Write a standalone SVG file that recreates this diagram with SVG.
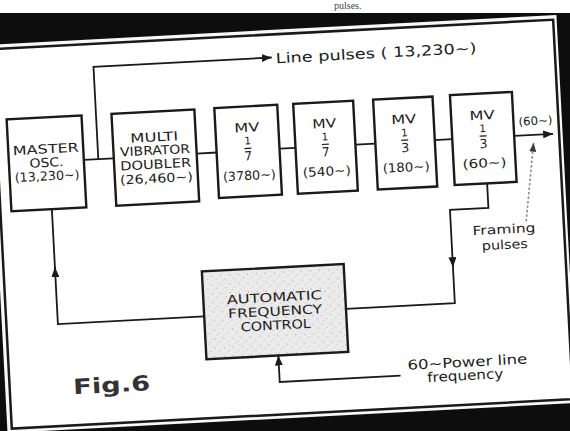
<svg xmlns="http://www.w3.org/2000/svg" width="570" height="431" viewBox="0 0 570 431">
<defs>
<style>
.box{fill:#fff;stroke:#1a1a1a;stroke-width:2.4}
.afc{fill:url(#stip);stroke:#1a1a1a;stroke-width:2.4}
.ln{fill:none;stroke:#1a1a1a;stroke-width:1.8}
.dot{fill:none;stroke:#8a8a8a;stroke-width:1.6;stroke-dasharray:2.5 2}
.t{font-family:"DejaVu Sans","Liberation Sans",sans-serif;font-size:12.5px;fill:#1c1c1c;text-anchor:middle}
.s{font-size:10.5px}
.bar{stroke:#1c1c1c;stroke-width:1.2}
.lab{font-family:"DejaVu Sans","Liberation Sans",sans-serif;font-size:13.5px;fill:#1c1c1c}
</style>
<marker id="ah" viewBox="0 0 10 8" refX="10" refY="4" markerWidth="10" markerHeight="8" markerUnits="userSpaceOnUse" orient="auto"><path d="M0,0 L10,4 L0,8 z" fill="#1a1a1a"/></marker>
<marker id="ahg" viewBox="0 0 10 8" refX="10" refY="4" markerWidth="9" markerHeight="7" markerUnits="userSpaceOnUse" orient="auto"><path d="M0,0 L10,4 L0,8 z" fill="#3a3a3a"/></marker>
<pattern id="stip" width="9" height="9" patternUnits="userSpaceOnUse"><rect width="9" height="9" fill="#ebebeb"/><circle cx="1.5" cy="2" r="0.6" fill="#8a8a8a"/><circle cx="6" cy="5.5" r="0.5" fill="#9a9a9a"/><circle cx="3.5" cy="7.5" r="0.45" fill="#aaa"/><circle cx="7.5" cy="1" r="0.4" fill="#b0b0b0"/></pattern>
</defs>
<rect width="570" height="431" fill="#0d0d0d"/>
<g transform="rotate(-3 285 215)">
<rect x="-3.5" y="29.5" width="570" height="388.5" fill="#f8f8f8"/>
<rect x="1" y="34" width="562" height="380" fill="#fff" stroke="#1a1a1a" stroke-width="2.5"/>

<g id="connectors">
<path class="ln" d="M87,149.5 H117"/>
<path class="ln" d="M101.5,149.5 V57 H280" marker-end="url(#ah)"/>
<path class="ln" d="M200,149 H220"/>
<path class="ln" d="M283,148.5 H299"/>
<path class="ln" d="M359,148.5 H379"/>
<path class="ln" d="M438,148 H456"/>
<path class="ln" d="M518,148 H557" marker-end="url(#ah)"/>
<path class="dot" d="M525.5,234 L537,156" marker-end="url(#ahg)"/>
<path class="ln" d="M488.5,194.5 V218.5 H450 V276" marker-end="url(#ah)"/>
<path class="ln" d="M450,274 V312 H341"/>
<path class="ln" d="M199,312 H52.5 V255" marker-end="url(#ah)"/>
<path class="ln" d="M52.5,257 V197"/>
<path class="ln" d="M392,381.5 H271 V355" marker-end="url(#ah)"/>
</g>

<g id="master">
<rect class="box" x="12" y="105" width="75" height="92"/>
<text class="t" x="49.5" y="141" textLength="66" lengthAdjust="spacingAndGlyphs">MASTER</text>
<text class="t" x="49.5" y="154.5" textLength="34" lengthAdjust="spacingAndGlyphs">OSC.</text>
<text class="t" x="49.5" y="168" textLength="65" lengthAdjust="spacingAndGlyphs">(13,230~)</text>
</g>
<g id="doubler">
<rect class="box" x="117" y="105" width="83" height="92"/>
<text class="t" x="158.5" y="134.7" textLength="48" lengthAdjust="spacingAndGlyphs">MULTI</text>
<text class="t" x="158.5" y="148" textLength="70" lengthAdjust="spacingAndGlyphs">VIBRATOR</text>
<text class="t" x="158.5" y="162" textLength="71" lengthAdjust="spacingAndGlyphs">DOUBLER</text>
<text class="t" x="158.5" y="176" textLength="73" lengthAdjust="spacingAndGlyphs">(26,460~)</text>
</g>
<g id="mv1">
<rect class="box" x="220" y="104.5" width="63" height="90"/>
<text class="t" x="251.5" y="130" textLength="25" lengthAdjust="spacingAndGlyphs">MV</text>
<text class="t s" x="251.5" y="142.6">1</text>
<line class="bar" x1="248" y1="146.5" x2="255" y2="146.5"/>
<text class="t" x="251.5" y="158.5">7</text>
<text class="t" x="251.5" y="178" textLength="53" lengthAdjust="spacingAndGlyphs">(3780~)</text>
</g>
<g id="mv2">
<rect class="box" x="299" y="104.5" width="60" height="90"/>
<text class="t" x="329" y="130" textLength="24" lengthAdjust="spacingAndGlyphs">MV</text>
<text class="t s" x="329" y="142.6">1</text>
<line class="bar" x1="325.5" y1="146.5" x2="332.5" y2="146.5"/>
<text class="t" x="329" y="158.5">7</text>
<text class="t" x="329" y="178" textLength="48" lengthAdjust="spacingAndGlyphs">(540~)</text>
</g>
<g id="mv3">
<rect class="box" x="379" y="104.5" width="59.5" height="90"/>
<text class="t" x="408.5" y="130" textLength="25" lengthAdjust="spacingAndGlyphs">MV</text>
<text class="t s" x="408.5" y="142.6">1</text>
<line class="bar" x1="405" y1="146.5" x2="412" y2="146.5"/>
<text class="t" x="408.5" y="158.5">3</text>
<text class="t" x="408.5" y="178" textLength="47" lengthAdjust="spacingAndGlyphs">(180~)</text>
</g>
<g id="mv4">
<rect class="box" x="456" y="104" width="62" height="90"/>
<text class="t" x="487" y="130" textLength="25" lengthAdjust="spacingAndGlyphs">MV</text>
<text class="t s" x="487" y="142.6">1</text>
<line class="bar" x1="483.5" y1="146.5" x2="490.5" y2="146.5"/>
<text class="t" x="487" y="158.5">3</text>
<text class="t" x="487" y="178" textLength="44" lengthAdjust="spacingAndGlyphs">(60~)</text>
</g>
<g id="afc">
<rect class="afc" x="199" y="267" width="142" height="88"/>
<text class="t" x="270" y="301" textLength="95" lengthAdjust="spacingAndGlyphs">AUTOMATIC</text>
<text class="t" x="270" y="315" textLength="94" lengthAdjust="spacingAndGlyphs">FREQUENCY</text>
<text class="t" x="270" y="329" textLength="70" lengthAdjust="spacingAndGlyphs">CONTROL</text>
</g>

<g id="labels">
<text class="lab" x="284" y="63" textLength="201" lengthAdjust="spacingAndGlyphs" style="font-size:14px">Line pulses ( 13,230~)</text>
<text class="t" x="540" y="138" textLength="34" lengthAdjust="spacingAndGlyphs" style="font-size:11.5px">(60~)</text>
<text class="t" x="503" y="245" textLength="63" lengthAdjust="spacingAndGlyphs">Framing</text>
<text class="t" x="503" y="260.5" textLength="46" lengthAdjust="spacingAndGlyphs">pulses</text>
<text class="t" x="459.4" y="376" textLength="120" lengthAdjust="spacingAndGlyphs" style="font-size:13.5px">60~Power line</text>
<text class="t" x="456.6" y="389.4" textLength="76" lengthAdjust="spacingAndGlyphs" style="font-size:13.5px">frequency</text>
<text class="t" x="103" y="383" textLength="77" lengthAdjust="spacingAndGlyphs" style="font-size:21px;font-weight:bold;fill:#333">Fig.6</text>
</g>
</g>
<rect x="0" y="0" width="570" height="13" fill="#fff"/>
<text x="334" y="9" style="font-family:'Liberation Serif',serif;font-size:10px;fill:#444">pulses.</text>
</svg>
